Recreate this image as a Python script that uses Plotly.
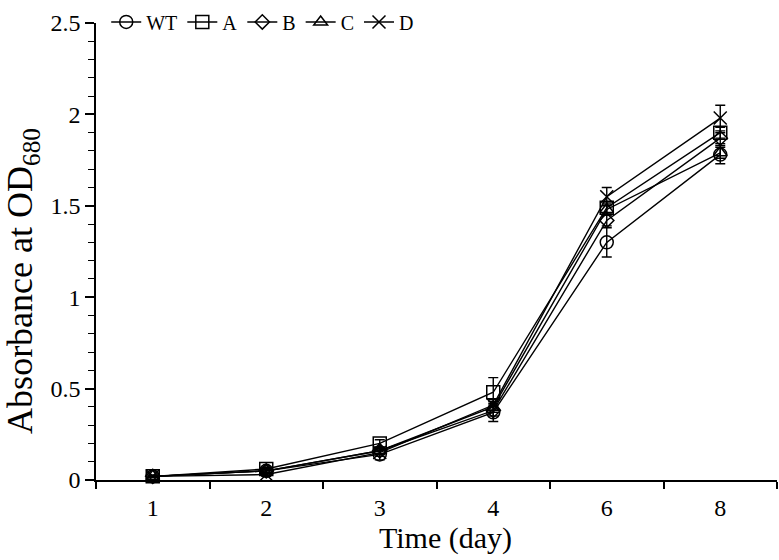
import plotly.graph_objects as go

days = ["1", "2", "3", "4", "6", "8"]
series_names = ["WT", "A", "B", "C", "D"]
wt = [0.02, 0.05, 0.14, 0.37, 1.30, 1.78]
a = [0.02, 0.06, 0.20, 0.48, 1.49, 1.90]
b = [0.02, 0.05, 0.16, 0.38, 1.42, 1.87]
c = [0.02, 0.05, 0.16, 0.40, 1.48, 1.79]
d = [0.02, 0.03, 0.15, 0.41, 1.55, 1.98]
wt_err = [0.005, 0.01, 0.03, 0.05, 0.08, 0.05]
a_err = [0.005, 0.01, 0.02, 0.08, 0.03, 0.03]
b_err = [0.005, 0.01, 0.02, 0.03, 0.03, 0.03]
c_err = [0.005, 0.01, 0.02, 0.03, 0.03, 0.03]
d_err = [0.005, 0.01, 0.02, 0.03, 0.05, 0.07]
x_title = "Time (day)"
y_title = "Absorbance at OD<sub>680</sub>"

values = [wt, a, b, c, d]
errors = [wt_err, a_err, b_err, c_err, d_err]
symbols = ["circle-open", "square-open", "diamond-open", "triangle-up-open", "x-thin-open"]
sizes = [13, 13, 11, 12, 13]

font_family = "Liberation Serif"

fig = go.Figure()
for name, vals, errs, sym, sz in zip(series_names, values, errors, symbols, sizes):
    fig.add_trace(go.Scatter(
        x=days, y=vals, name=name, mode="lines+markers",
        line=dict(color="black", width=1.4),
        marker=dict(symbol=sym, size=sz, color="black",
                    line=dict(color="black", width=1.5)),
        error_y=dict(type="data", array=errs, visible=True,
                     color="black", thickness=1.4, width=5),
        cliponaxis=False,
    ))

fig.add_annotation(text=x_title, xref="paper", yref="paper", x=0.5125, y=-0.128,
                   xanchor="center", yanchor="middle", showarrow=False,
                   font=dict(size=30, family=font_family, color="black"))
fig.add_annotation(text=y_title, xref="paper", yref="paper", x=-0.107, y=0.436,
                   xanchor="center", yanchor="middle", showarrow=False, textangle=-90,
                   font=dict(size=36, family=font_family, color="black"))

fig.update_layout(
    width=779, height=560,
    margin=dict(l=96, r=2, t=12, b=80),
    plot_bgcolor="white", paper_bgcolor="white",
    font=dict(family=font_family, color="black", size=24),
    showlegend=True,
    legend=dict(orientation="h", x=0.015, y=1.045, xanchor="left", yanchor="top",
                font=dict(size=20, family=font_family), bgcolor="rgba(0,0,0,0)",
                tracegroupgap=0, itemwidth=30),
    xaxis=dict(
        type="category", range=[-0.5, 5.5], automargin=False,
        showline=True, linecolor="black", linewidth=1.5,
        ticks="outside", tickson="boundaries", ticklen=7, tickwidth=1.5, tickcolor="black",
        showgrid=False, zeroline=False, tickfont=dict(size=24),
        ticklabeloverflow="allow", ticklabelstandoff=5,
    ),
    yaxis=dict(
        range=[0, 2.5], dtick=0.5, tickformat="~g", automargin=False,
        showline=True, linecolor="black", linewidth=1.5,
        ticks="outside", ticklen=9, tickwidth=1.5, tickcolor="black",
        minor=dict(dtick=0.1, ticks="outside", ticklen=6, tickwidth=1, tickcolor="black"),
        showgrid=False, zeroline=False, tickfont=dict(size=24),
        ticklabeloverflow="allow",
    ),
)

fig.write_html("out.html", post_script="document.body.style.margin='0';",
               config={"displayModeBar": False})
